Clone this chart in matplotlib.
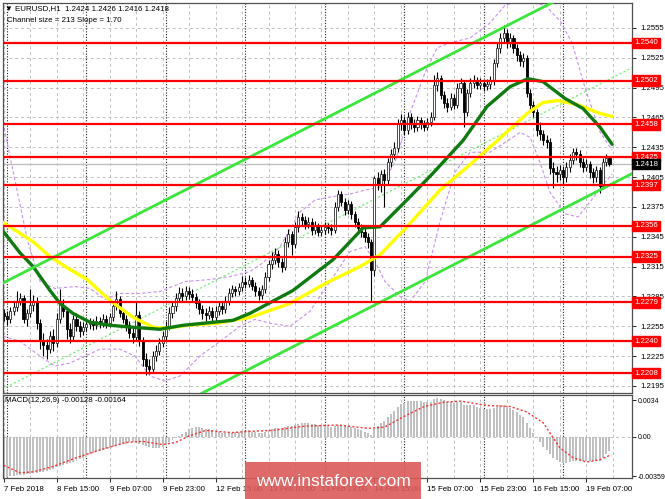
import matplotlib
matplotlib.use('Agg')
import matplotlib.pyplot as plt
from matplotlib.patches import Rectangle
from matplotlib.ticker import FormatStrFormatter
import numpy as np

plt.rcParams['font.family'] = ['Liberation Sans', 'DejaVu Sans']

# EURUSD H1 candles, bar -1 = 7 Feb 23:00, bar 0 = 8 Feb 00:00
first_open = 1.2268
closes = [
    1.2265, 1.2262, 1.2270, 1.2274, 1.2280, 1.2283, 1.2262, 1.2268, 1.2276, 1.2280,
    1.2258, 1.2240, 1.2236, 1.2232, 1.2245, 1.2238, 1.2262, 1.2276, 1.2270, 1.2252,
    1.2245, 1.2262, 1.2255, 1.2250, 1.2254, 1.2257, 1.2258, 1.2256, 1.2260, 1.2258,
    1.2262, 1.2258, 1.2264, 1.2275, 1.2282, 1.2268, 1.2262, 1.2256, 1.2248, 1.2244,
    1.2266, 1.2240, 1.2222, 1.2215, 1.2212, 1.2225, 1.2230, 1.2238, 1.2245, 1.2255,
    1.2268, 1.2275, 1.2283, 1.2288, 1.2285, 1.2290, 1.2287, 1.2284, 1.2278, 1.2272,
    1.2268, 1.2266, 1.2270, 1.2264, 1.2270, 1.2275, 1.2272, 1.2280, 1.2288, 1.2292,
    1.2290, 1.2294, 1.2300, 1.2298, 1.2302, 1.2296, 1.2290, 1.2286, 1.2292, 1.2305,
    1.2318, 1.2322, 1.2328, 1.2320, 1.2315, 1.2340, 1.2348, 1.2338, 1.2355, 1.2365,
    1.2362, 1.2358, 1.2360, 1.2352, 1.2356, 1.2350, 1.2352, 1.2355, 1.2354, 1.2352,
    1.2375, 1.2388, 1.2380, 1.2372, 1.2378, 1.2368, 1.2360, 1.2354, 1.2350, 1.2345,
    1.2340, 1.2312, 1.2404, 1.2398, 1.2408, 1.2402, 1.2420, 1.2428, 1.2434, 1.2458,
    1.2462, 1.2452, 1.2465, 1.2458, 1.2455, 1.2462, 1.2458, 1.2455, 1.2460, 1.2465,
    1.2498, 1.2505, 1.2488, 1.2480, 1.2476, 1.2485, 1.2478, 1.2495, 1.2500, 1.2470,
    1.2490, 1.2500, 1.2503, 1.2498, 1.2500, 1.2497, 1.2499, 1.2502, 1.2520, 1.2535,
    1.2545, 1.2550, 1.2540, 1.2545, 1.2535, 1.2528, 1.2522, 1.2525, 1.2490, 1.2478,
    1.2470, 1.2452, 1.2448, 1.2442, 1.2440, 1.2414, 1.2410, 1.2408, 1.2412, 1.2405,
    1.2415, 1.2422, 1.2430, 1.2428, 1.2420, 1.2415, 1.2418, 1.2410, 1.2405, 1.2412,
    1.2396, 1.2420, 1.2424, 1.2418,
]
highs = [
    1.2272, 1.2270, 1.2274, 1.2279, 1.2290, 1.2288, 1.2286, 1.2272, 1.2292, 1.2286,
    1.2284, 1.2262, 1.2248, 1.2242, 1.2250, 1.2252, 1.2268, 1.2292, 1.2282, 1.2274,
    1.2258, 1.2266, 1.2268, 1.2260, 1.2259, 1.2262, 1.2263, 1.2262, 1.2265, 1.2264,
    1.2267, 1.2266, 1.2268, 1.2280, 1.2290, 1.2285, 1.2272, 1.2266, 1.2260, 1.2253,
    1.2279, 1.2270, 1.2244, 1.2228, 1.2222, 1.2230, 1.2236, 1.2243, 1.2250, 1.2260,
    1.2274, 1.2280, 1.2288, 1.2294, 1.2293, 1.2296, 1.2294, 1.2292, 1.2288, 1.2282,
    1.2276, 1.2273, 1.2275, 1.2274, 1.2275, 1.2280, 1.2279, 1.2285, 1.2293, 1.2297,
    1.2296, 1.2299, 1.2306, 1.2305, 1.2307, 1.2305, 1.2300, 1.2294, 1.2297, 1.2310,
    1.2322, 1.2330, 1.2334, 1.2332, 1.2324, 1.2345, 1.2353, 1.2351, 1.2360, 1.2371,
    1.2369, 1.2366, 1.2365, 1.2364, 1.2361, 1.2359, 1.2357, 1.2360, 1.2359, 1.2358,
    1.2380, 1.2392, 1.2391, 1.2384, 1.2382, 1.2381, 1.2371, 1.2364, 1.2358, 1.2354,
    1.2349, 1.2343, 1.2406, 1.2410, 1.2412, 1.2413, 1.2424, 1.2433, 1.2440, 1.2463,
    1.2468, 1.2466, 1.2470, 1.2469, 1.2463, 1.2466, 1.2465, 1.2462, 1.2464, 1.2470,
    1.2508, 1.2511, 1.2508, 1.2492, 1.2485, 1.2490, 1.2489, 1.2500, 1.2505, 1.2503,
    1.2494, 1.2505, 1.2508, 1.2506, 1.2505, 1.2503, 1.2504, 1.2507, 1.2524, 1.2540,
    1.2550, 1.2558, 1.2554, 1.2550, 1.2548, 1.2539, 1.2532, 1.2530, 1.2528, 1.2494,
    1.2482, 1.2474, 1.2460, 1.2452, 1.2447, 1.2444, 1.2420, 1.2416, 1.2417, 1.2416,
    1.2420, 1.2428, 1.2434, 1.2434, 1.2432, 1.2424, 1.2423, 1.2421, 1.2414, 1.2416,
    1.2415, 1.2424, 1.2428, 1.2426,
]
lows = [
    1.2260, 1.2256, 1.2258, 1.2266, 1.2270, 1.2276, 1.2258, 1.2255, 1.2264, 1.2270,
    1.2252, 1.2232, 1.2225, 1.2222, 1.2228, 1.2230, 1.2234, 1.2258, 1.2264, 1.2242,
    1.2238, 1.2241, 1.2250, 1.2244, 1.2246, 1.2250, 1.2252, 1.2251, 1.2252, 1.2253,
    1.2254, 1.2253, 1.2254, 1.2260, 1.2271, 1.2264, 1.2258, 1.2250, 1.2243, 1.2238,
    1.2240, 1.2235, 1.2215, 1.2206, 1.2207, 1.2209, 1.2220, 1.2226, 1.2234, 1.2241,
    1.2251, 1.2263, 1.2270, 1.2279, 1.2280, 1.2281, 1.2282, 1.2279, 1.2273, 1.2267,
    1.2262, 1.2260, 1.2262, 1.2259, 1.2260, 1.2266, 1.2267, 1.2268, 1.2276, 1.2284,
    1.2285, 1.2286, 1.2290, 1.2293, 1.2294, 1.2291, 1.2285, 1.2281, 1.2282, 1.2288,
    1.2301, 1.2313, 1.2318, 1.2315, 1.2310, 1.2312, 1.2335, 1.2327, 1.2334, 1.2350,
    1.2357, 1.2353, 1.2354, 1.2347, 1.2348, 1.2346, 1.2346, 1.2348, 1.2349, 1.2347,
    1.2349, 1.2371, 1.2376, 1.2367, 1.2368, 1.2363, 1.2355, 1.2349, 1.2345, 1.2340,
    1.2334, 1.2279, 1.2306, 1.2392, 1.2390, 1.2375, 1.2398, 1.2415, 1.2423, 1.2430,
    1.2452, 1.2447, 1.2448, 1.2453, 1.2450, 1.2451, 1.2453, 1.2451, 1.2452, 1.2456,
    1.2462, 1.2492, 1.2484, 1.2475, 1.2470, 1.2472, 1.2473, 1.2475, 1.2490, 1.2455,
    1.2466, 1.2486, 1.2495, 1.2494, 1.2494, 1.2492, 1.2493, 1.2494, 1.2498, 1.2516,
    1.2530, 1.2540, 1.2535, 1.2536, 1.2530, 1.2522, 1.2517, 1.2516, 1.2486, 1.2472,
    1.2465, 1.2446, 1.2442, 1.2437, 1.2434, 1.2408, 1.2394, 1.2400, 1.2402, 1.2398,
    1.2400, 1.2410, 1.2418, 1.2422, 1.2415, 1.2410, 1.2411, 1.2404, 1.2399, 1.2400,
    1.2389, 1.2393, 1.2416, 1.2416,
]

# moving averages read at points (bar, price)
ma_green_bars = [-1.5, 3.9, 7.9, 13.0, 16.0, 19.9, 25.1, 31.1, 38.1, 46.2, 53.2, 62.2, 68.3,
                 73.4, 86.4, 98.5, 107.6, 112.7, 120.8, 128.7, 137.8, 145.0, 152.0, 157.4,
                 161.9, 168.6, 174.0, 179.2, 182.8]
ma_green_vals = [1.2352, 1.2329, 1.2315, 1.2291, 1.2278, 1.2268, 1.2259, 1.2256, 1.2254, 1.2252,
                 1.2256, 1.2259, 1.2261, 1.2268, 1.2291, 1.2322, 1.2354, 1.2355, 1.2382, 1.2409,
                 1.2442, 1.2476, 1.2496, 1.2504, 1.2501, 1.2484, 1.2474, 1.2455, 1.2438]
ma_yellow_bars = [-1.5, 7.9, 13.0, 18.1, 24.2, 31.1, 38.1, 44.1, 48.3, 54.4, 63.4, 73.4, 85.5,
                  96.7, 106.6, 112.7, 120.8, 130.8, 139.0, 148.9, 157.1, 161.9, 166.2, 172.2,
                  179.2, 182.8]
ma_yellow_vals = [1.2360, 1.2340, 1.2325, 1.2314, 1.2302, 1.2281, 1.2264, 1.2254, 1.2253, 1.2256,
                  1.2258, 1.2264, 1.2278, 1.2299, 1.2315, 1.2327, 1.2355, 1.2392, 1.2415, 1.2444,
                  1.2469, 1.2480, 1.2482, 1.2478, 1.2469, 1.2466]

# bollinger bands (dashed violet)
bb_up_bars = [-1.2, 2.4, 6.3, 10.0, 14.5, 20.5, 25.1, 29.6, 34.1, 40.2, 46.2, 53.8, 61.3, 67.4,
              73.4, 77.0, 82.5, 88.5, 93.1, 97.6, 103.6, 108.2, 112.7, 117.2, 121.8, 126.3,
              129.9, 133.8, 139.9, 145.9, 150.5, 155.0, 162.5, 167.1, 170.7, 174.6, 179.2, 182.8]
bb_up_vals = [1.2460, 1.2402, 1.2340, 1.2300, 1.2293, 1.2295, 1.2293, 1.2282, 1.2288, 1.2288,
              1.2290, 1.2300, 1.2302, 1.2305, 1.2310, 1.2318, 1.2335, 1.2370, 1.2382, 1.2385,
              1.2388, 1.2392, 1.2395, 1.2420, 1.2470, 1.2510, 1.2535, 1.2540, 1.2545, 1.2560,
              1.2578, 1.2582, 1.2578, 1.2562, 1.2540, 1.2495, 1.2450, 1.2432]
bb_lo_bars = [-1.2, 3.9, 10.0, 14.5, 19.0, 23.6, 28.1, 34.1, 38.7, 43.2, 47.7, 52.3, 58.3, 64.4,
              70.4, 74.9, 79.5, 85.5, 91.5, 97.6, 103.6, 108.2, 111.2, 114.2, 118.7, 121.8,
              126.3, 130.8, 135.3, 139.9, 145.9, 150.5, 155.0, 158.0, 161.0, 164.0, 168.6,
              172.5, 176.1, 180.7, 182.8]
bb_lo_vals = [1.2245, 1.2240, 1.2225, 1.2215, 1.2218, 1.2225, 1.2232, 1.2232, 1.2225, 1.2205,
              1.2200, 1.2205, 1.2225, 1.2240, 1.2255, 1.2262, 1.2258, 1.2255, 1.2270, 1.2300,
              1.2330, 1.2335, 1.2320, 1.2300, 1.2285, 1.2280, 1.2300, 1.2360, 1.2410, 1.2430,
              1.2430, 1.2440, 1.2450, 1.2445, 1.2420, 1.2390, 1.2368, 1.2365, 1.2380, 1.2400,
              1.2408]

# regression channel: "Channel size = 213 Slope = 1.70"
chan_bars = [-1.5, 190.0]
chan_top_start = 1.2298
chan_slope = 0.00017
chan_size = 0.0213

levels = [1.2540, 1.2502, 1.2458, 1.2425, 1.2397, 1.2356, 1.2325, 1.2279, 1.2240, 1.2208]
last_price = 1.2418
price_ticks = [1.2555, 1.2525, 1.2495, 1.2465, 1.2435, 1.2405, 1.2375, 1.2345, 1.2315,
               1.2285, 1.2255, 1.2225, 1.2195]

macd_hist = [
    -0.0037, -0.0037, -0.0036, -0.0036, -0.0035, -0.0035, -0.0035, -0.0034, -0.0034, -0.0033,
    -0.0033, -0.0032, -0.0032, -0.0031, -0.0030, -0.0029, -0.0028, -0.0027, -0.0026, -0.0025,
    -0.0024, -0.0023, -0.0022, -0.0020, -0.0019, -0.0018, -0.0016, -0.0015, -0.0014, -0.0013,
    -0.0012, -0.0011, -0.0010, -0.0009, -0.0008, -0.0007, -0.0006, -0.0006, -0.0005, -0.0005,
    -0.0005, -0.0006, -0.0007, -0.0008, -0.0009, -0.0010, -0.0010, -0.0010, -0.0009, -0.0007,
    -0.0005, -0.0003, -0.0001, 0.0001, 0.0003, 0.0005, 0.0007, 0.0008, 0.0009, 0.0009,
    0.0008, 0.0007, 0.0007, 0.0006, 0.0005, 0.0005, 0.0004, 0.0004, 0.0004, 0.0004,
    0.0005, 0.0005, 0.0005, 0.0005, 0.0006, 0.0005, 0.0005, 0.0004, 0.0004, 0.0005,
    0.0006, 0.0007, 0.0008, 0.0008, 0.0008, 0.0009, 0.0010, 0.0010, 0.0011, 0.0012,
    0.0013, 0.0013, 0.0013, 0.0012, 0.0012, 0.0011, 0.0011, 0.0010, 0.0010, 0.0009,
    0.0010, 0.0011, 0.0011, 0.0010, 0.0010, 0.0009, 0.0008, 0.0007, 0.0006, 0.0005,
    0.0004, 0.0002, 0.0007, 0.0010, 0.0013, 0.0015, 0.0018, 0.0021, 0.0024, 0.0028,
    0.0030, 0.0031, 0.0033, 0.0033, 0.0033, 0.0033, 0.0033, 0.0032, 0.0032, 0.0032,
    0.0035, 0.0036, 0.0035, 0.0034, 0.0032, 0.0032, 0.0031, 0.0032, 0.0032, 0.0029,
    0.0029, 0.0029, 0.0029, 0.0028, 0.0027, 0.0026, 0.0026, 0.0026, 0.0027, 0.0028,
    0.0029, 0.0029, 0.0028, 0.0027, 0.0025, 0.0023, 0.0020, 0.0018, 0.0013, 0.0008,
    0.0004, -0.0001, -0.0005, -0.0009, -0.0012, -0.0016, -0.0019, -0.0021, -0.0023, -0.0024,
    -0.0024, -0.0023, -0.0022, -0.0022, -0.0022, -0.0022, -0.0022, -0.0022, -0.0022, -0.0022,
    -0.0022, -0.0019, -0.0016, -0.0013,
]
signal_bars = [-1, 4, 8, 14, 21, 28, 36, 41, 47, 51, 55, 60, 64, 68, 72, 80, 90, 100, 109, 114,
               120, 126, 132, 137, 145, 152, 157, 162, 167, 171, 175, 179, 182]
signal_vals = [-0.0026, -0.0033, -0.0032, -0.0027, -0.0019, -0.0012, -0.0005, -0.0004, -0.0007,
               -0.0005, 0.0001, 0.0006, 0.0005, 0.0004, 0.0005, 0.0006, 0.0010, 0.0011, 0.0008,
               0.0009, 0.0019, 0.0028, 0.0032, 0.0033, 0.0029, 0.0028, 0.0023, 0.0013, -0.0010,
               -0.0019, -0.0023, -0.0021, -0.0017]
macd_ticks = [0.0034, 0.0, -0.00359]
macd_ticklabels = ['0.0034', '0.00', '-0.00359']

label_bars = [-1, 15, 31, 47, 63, 79, 95, 111, 127, 143, 159, 175]
time_labels = ['7 Feb 2018', '8 Feb 15:00', '9 Feb 07:00', '9 Feb 23:00', '12 Feb 15:00',
               '13 Feb 07:00', '13 Feb 23:00', '14 Feb 15:00', '15 Feb 07:00', '15 Feb 23:00',
               '16 Feb 15:00', '19 Feb 07:00']
day_starts = [0, 24, 48, 72, 96, 120, 144, 168]

W, H = 665, 499


def box(x0, y0, x1, y1):
    return [x0 / W, 1 - y1 / H, (x1 - x0) / W, (y1 - y0) / H]


fig = plt.figure(figsize=(W / 100, H / 100), dpi=100)
ax = fig.add_axes(box(3, 3, 632, 393))
ax2 = fig.add_axes(box(3, 395, 632, 478), sharex=ax)

bars = np.arange(-1, len(closes) - 1)
c = np.array(closes)
o = np.array([first_open] + closes[:-1])
hi = np.array(highs)
lo = np.array(lows)
up = c >= o

grid_col = '#c0c0c0'
for a in (ax, ax2):
    for g in range(-1, 190, 8):
        a.axvline(g, color=grid_col, lw=0.7, ls=(0, (3, 3)), zorder=0)
    for d in day_starts:
        a.axvline(d, color='#202020', lw=0.8, ls=(0, (1, 1.5)), zorder=0.5)
for t in price_ticks:
    ax.axhline(t, color=grid_col, lw=0.7, ls=(0, (3, 3)), zorder=0)
ax2.axhline(0, color=grid_col, lw=0.7, ls=(0, (3, 3)), zorder=0)

# bollinger
ax.plot(bb_up_bars, bb_up_vals, color='#c890f0', lw=0.8, ls=(0, (3, 2)), zorder=1)
ax.plot(bb_lo_bars, bb_lo_vals, color='#c890f0', lw=0.8, ls=(0, (3, 2)), zorder=1)

# channel
chan_top = [chan_top_start + chan_slope * (b - chan_bars[0]) for b in chan_bars]
ax.plot(chan_bars, chan_top, color='#3ae63a', lw=2, zorder=4)
ax.plot(chan_bars, [v - chan_size for v in chan_top], color='#3ae63a', lw=2, zorder=4)
ax.plot(chan_bars, [v - chan_size / 2 for v in chan_top], color='#66f066', lw=0.8,
        ls=(0, (2, 2)), zorder=1)

# candles
ax.vlines(bars, lo, hi, color='black', lw=0.8, zorder=2)
ax.bar(bars[up], np.maximum(c[up] - o[up], 0.00002), bottom=o[up], width=0.62,
       color='white', edgecolor='#303030', lw=0.6, zorder=2.1)
ax.bar(bars[~up], o[~up] - c[~up], bottom=c[~up], width=0.62,
       color='black', edgecolor='black', lw=0.6, zorder=2.1)

# moving averages
ax.plot(ma_yellow_bars, ma_yellow_vals, color='#ffff00', lw=2.4, zorder=3,
        solid_capstyle='round')
ax.plot(ma_green_bars, ma_green_vals, color='#0f7a0f', lw=2.4, zorder=3,
        solid_capstyle='round')

# levels
ax.axhline(last_price, color='#c0c0c0', lw=1, zorder=1.5)
for lv in levels:
    ax.axhline(lv, color='#ff0000', lw=1.6, zorder=4)

ytr = ax.get_yaxis_transform()
for lv in levels:
    ax.text(1.0035, lv, f'{lv:.4f}', transform=ytr, ha='left', va='center', fontsize=5.6,
            color='white', clip_on=False, zorder=6,
            bbox=dict(boxstyle='square,pad=0.22', fc='#ff0000', ec='#ff0000'))
ax.text(1.0035, last_price, f'{last_price:.4f}', transform=ytr, ha='left', va='center',
        fontsize=5.6, color='white', clip_on=False, zorder=6,
        bbox=dict(boxstyle='square,pad=0.22', fc='black', ec='black'))

ax.set_xlim(-1.2, 188.8)
ax.set_ylim(1.21879, 1.25801)
ax.yaxis.tick_right()
ax.set_yticks(price_ticks)
ax.yaxis.set_major_formatter(FormatStrFormatter('%.4f'))
ax.tick_params(axis='y', labelsize=5.6, length=3, pad=3, width=0.6)
ax.tick_params(axis='x', bottom=False, labelbottom=False)

# MACD
ax2.bar(bars, macd_hist, width=0.6, color='#c0c0c0', zorder=1)
ax2.plot(signal_bars, signal_vals, color='#ff3030', lw=1, ls=(0, (1.5, 1.5)), zorder=2)
ax2.set_ylim(-0.00377, 0.00386)
ax2.yaxis.tick_right()
ax2.set_yticks(macd_ticks, labels=macd_ticklabels)
ax2.tick_params(axis='y', labelsize=5.0, length=3, pad=1, width=0.6)
ax2.set_xticks(label_bars, labels=time_labels)
ax2.tick_params(axis='x', labelsize=5.7, length=3, pad=3, width=0.6)
for lbl in ax2.get_xticklabels():
    lbl.set_horizontalalignment('left')

for a in (ax, ax2):
    for s in a.spines.values():
        s.set_color('#505050')
        s.set_linewidth(0.9)

fig.text(5 / W, 1 - 9 / H, '\u25bc EURUSD,H1  1.2424 1.2426 1.2416 1.2418', fontsize=5.7,
         va='center', ha='left')
fig.text(7 / W, 1 - 20 / H, 'Channel size = 213 Slope = 1.70', fontsize=5.7,
         va='center', ha='left')
fig.text(5 / W, 1 - 401 / H, 'MACD(12,26,9) -0.00128 -0.00164', fontsize=5.7,
         va='center', ha='left')

fig.patches.append(Rectangle((245 / W, 0), 176 / W, 37 / H, transform=fig.transFigure,
                             facecolor='#dc5a5a', alpha=0.9, edgecolor='none', zorder=10))
fig.text(333 / W, 1 - 482 / H, 'www.instaforex.com', fontsize=12.5, color='white',
         ha='center', va='center', zorder=11)

fig.savefig('out.png', dpi=100)
